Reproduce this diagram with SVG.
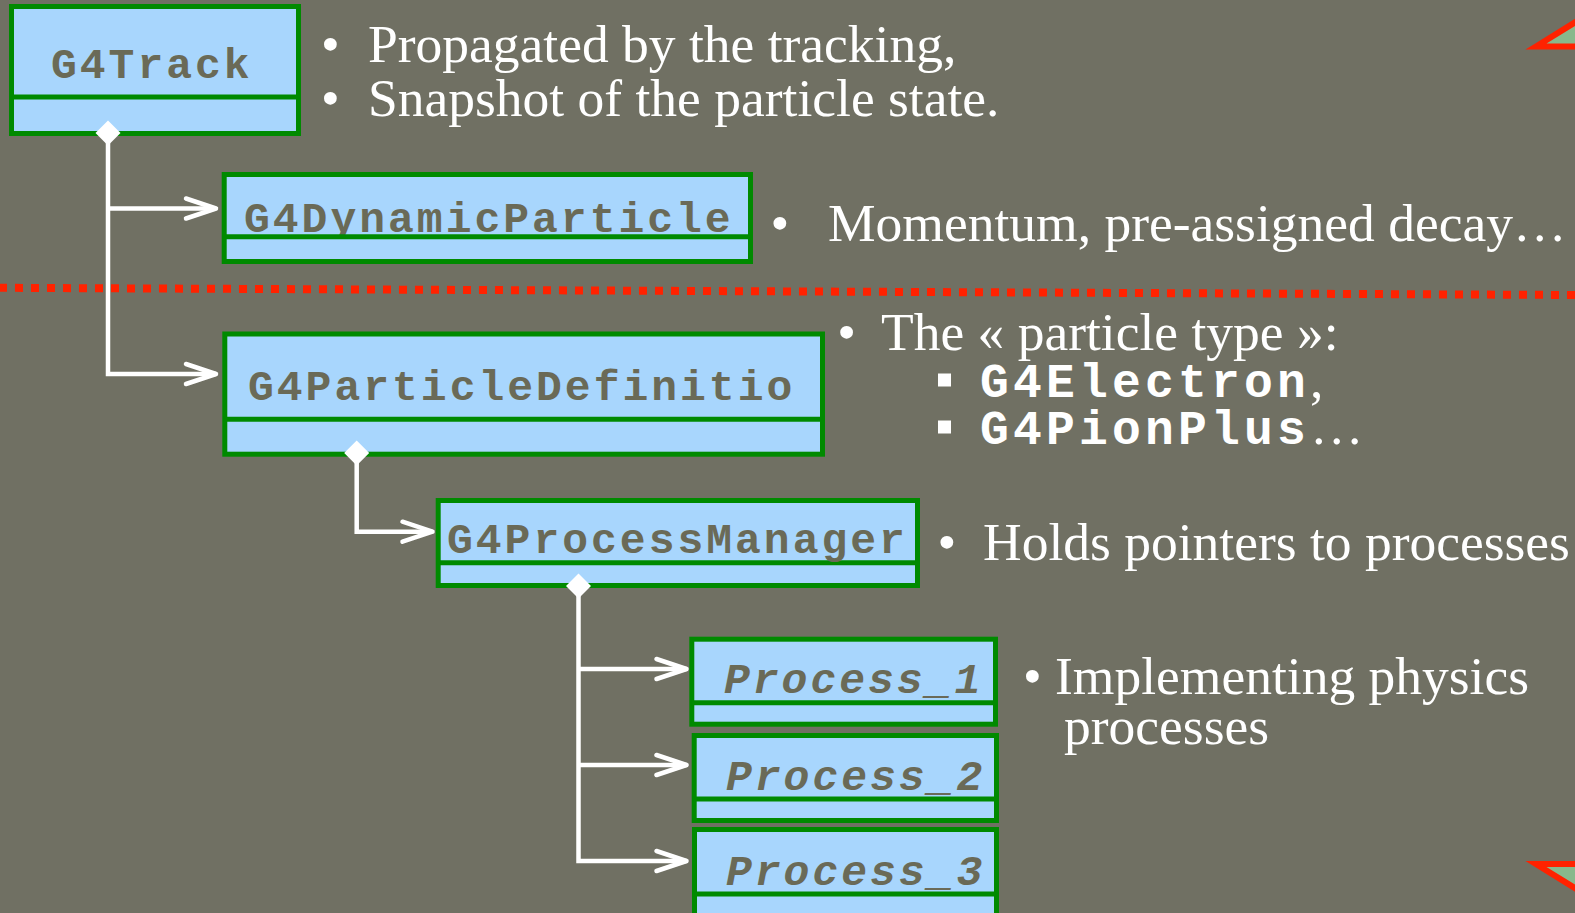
<svg xmlns="http://www.w3.org/2000/svg" width="1575" height="913" viewBox="0 0 1575 913">
<defs>
<style>
.box{fill:#a8d6fd;stroke:#008a00;stroke-width:5}
.div{stroke:#008a00;stroke-width:5}
.cls{font-family:"Liberation Mono","Courier New",monospace;font-weight:bold;font-size:43px;letter-spacing:3px;fill:#6a6a57}
.it{font-style:italic}
.note{font-family:"Liberation Serif","Times New Roman",serif;font-size:53.5px;fill:#ffffff}
.mono{font-family:"Liberation Mono","Courier New",monospace;font-weight:bold;font-size:48px;letter-spacing:4.2px}
.conn{fill:none;stroke:#ffffff;stroke-width:4.5}
.dia{fill:#ffffff}
.tri{fill:#88b98c;stroke:#ff2200;stroke-width:6}
.sq{fill:#ffffff}
</style>
<marker id="arr" markerUnits="userSpaceOnUse" markerWidth="40" markerHeight="30" viewBox="-36 -15 40 30" refX="0" refY="0" orient="auto">
<path d="M-30,-10 L0,0 L-30,10" fill="none" stroke="#ffffff" stroke-width="4.5" stroke-linecap="round" stroke-linejoin="round"/>
</marker>
<clipPath id="clipDyn"><rect x="224" y="174" width="527" height="61"/></clipPath>
</defs>

<rect x="0" y="0" width="1575" height="913" fill="#707063"/>

<g id="separator">
<line x1="-1" y1="287.8" x2="1575" y2="295" stroke="#ff2200" stroke-width="8" stroke-dasharray="8 8"/>
</g>

<g id="decor">
<polygon class="tri" points="1536,46.5 1612,-0.5 1612,46.5"/>
<polygon class="tri" points="1536,864 1612,864 1612,911"/>
</g>

<g id="G4Track">
<rect class="box" x="11.5" y="6.5" width="287" height="127"/>
<line class="div" x1="11.5" y1="97" x2="298.5" y2="97"/>
<text class="cls" x="51" y="78">G4Track</text>
</g>

<g id="G4DynamicParticle">
<rect class="box" x="224.2" y="174.5" width="526.3" height="87"/>
<text class="cls" x="244" y="232" clip-path="url(#clipDyn)">G4DynamicParticle</text>
<line class="div" x1="224.2" y1="236.7" x2="750.5" y2="236.7"/>
</g>

<g id="G4ParticleDefinition">
<rect class="box" x="224.8" y="334" width="597.7" height="120.2"/>
<line class="div" x1="224.8" y1="419.3" x2="822.5" y2="419.3"/>
<text class="cls" x="248" y="400">G4ParticleDefinitio</text>
</g>

<g id="G4ProcessManager">
<rect class="box" x="438.2" y="500.5" width="479.3" height="85"/>
<line class="div" x1="438.2" y1="562.7" x2="917.5" y2="562.7"/>
<text class="cls" x="447" y="553">G4ProcessManager</text>
</g>

<g id="Process_1">
<rect class="box" x="691.8" y="639.2" width="303.7" height="85"/>
<line class="div" x1="691.8" y1="702.7" x2="995.5" y2="702.7"/>
<text class="cls it" x="724" y="693">Process_1</text>
</g>

<g id="Process_2">
<rect class="box" x="694.2" y="735.5" width="302.3" height="85"/>
<line class="div" x1="694.2" y1="799" x2="996.5" y2="799"/>
<text class="cls it" x="726" y="790">Process_2</text>
</g>

<g id="Process_3">
<rect class="box" x="694.5" y="829.5" width="302" height="100"/>
<line class="div" x1="694.5" y1="894" x2="996.5" y2="894"/>
<text class="cls it" x="726" y="885">Process_3</text>
</g>

<g id="connectors">
<path class="conn" d="M108,133 V374 H216" marker-end="url(#arr)"/>
<path class="conn" d="M108,208.5 H216" marker-end="url(#arr)"/>
<path class="conn" d="M356.7,453 V531.7 H432.5" marker-end="url(#arr)"/>
<path class="conn" d="M578.5,586 V861 H686.5" marker-end="url(#arr)"/>
<path class="conn" d="M578.5,669 H686.5" marker-end="url(#arr)"/>
<path class="conn" d="M578.5,765 H686.5" marker-end="url(#arr)"/>
<polygon class="dia" points="108,120.5 120.5,133 108,145.5 95.5,133"/>
<polygon class="dia" points="356.7,440.5 369.2,453 356.7,465.5 344.2,453"/>
<polygon class="dia" points="578.5,573.5 591,586 578.5,598.5 566,586"/>
</g>

<g id="notes">
<text class="note" y="61.5"><tspan x="321">•</tspan><tspan x="368">Propagated by the tracking,</tspan></text>
<text class="note" y="116"><tspan x="321">•</tspan><tspan x="368">Snapshot of the particle state.</tspan></text>
<text class="note" y="241"><tspan x="770.5">•</tspan><tspan x="828">Momentum, pre-assigned decay…</tspan></text>
<text class="note" y="350"><tspan x="837.3">•</tspan><tspan x="881">The « particle type »:</tspan></text>
<rect class="sq" x="938" y="373.5" width="13" height="13"/>
<text class="note" x="980" y="397"><tspan class="mono">G4Electron</tspan>,</text>
<rect class="sq" x="938" y="420.5" width="13" height="13"/>
<text class="note" x="980" y="444"><tspan class="mono">G4PionPlus</tspan>…</text>
<text class="note" y="559.5"><tspan x="937.6">•</tspan><tspan x="983">Holds pointers to processes</tspan></text>
<text class="note" y="694"><tspan x="1023">•</tspan><tspan x="1055">Implementing physics</tspan></text>
<text class="note" x="1064" y="744">processes</text>
</g>
</svg>
